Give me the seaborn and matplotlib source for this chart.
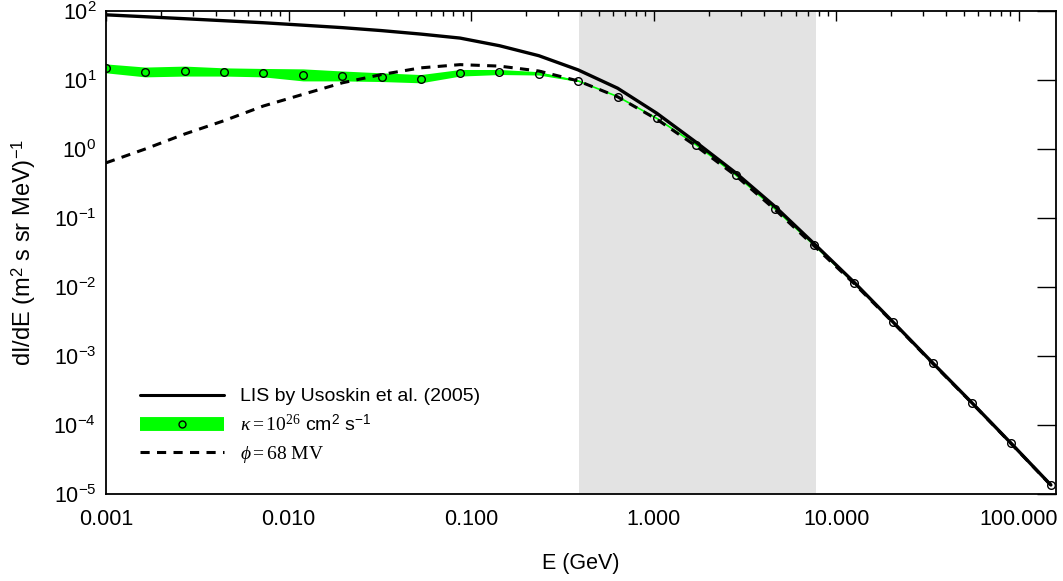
import numpy as np
import pandas as pd
import matplotlib
matplotlib.use("Agg")
import matplotlib.pyplot as plt
import seaborn as sns
from matplotlib.lines import Line2D
from matplotlib.ticker import FuncFormatter, LogLocator, NullLocator

# Kinetic energy grid (GeV)
energy_gev = [0.001, 0.00164, 0.0027, 0.00443, 0.00728, 0.012, 0.0197, 0.0323,
              0.053, 0.087, 0.143, 0.235, 0.386, 0.635, 1.04, 1.71, 2.82, 4.63,
              7.6, 12.5, 20.5, 33.7, 55.4, 91.0, 150.0]

# Local interstellar spectrum (Usoskin et al. 2005)
lis_flux = [88.0, 82.6, 77.3, 72.3, 67.6, 62.3, 57.4, 52.0, 46.3, 40.5, 31.4,
            22.5, 14.0, 7.6, 3.3, 1.25, 0.45, 0.146, 0.042, 0.0118, 3.1e-3,
            8.0e-4, 2.1e-4, 5.4e-5, 1.35e-5]

# Diffusion model, kappa = 1e26 cm^2/s
kappa_flux = [15.0, 13.2, 13.5, 13.2, 12.7, 12.0, 11.6, 11.1, 10.5, 12.7, 13.2,
              12.4, 9.7, 5.75, 2.78, 1.15, 0.42, 0.135, 0.040, 0.0115, 3.08e-3,
              7.9e-4, 2.1e-4, 5.4e-5, 1.35e-5]

# Spread of the diffusion model at low energies
band_energy = [0.001, 0.00164, 0.0027, 0.00443, 0.00728, 0.012, 0.0197, 0.0323,
               0.053, 0.087, 0.143, 0.235, 0.386]
band_upper = [17.1, 15.4, 15.9, 15.0, 14.7, 14.5, 13.5, 12.7, 12.0, 14.2, 14.2, 13.2, 9.9]
band_lower = [12.7, 11.1, 11.4, 11.4, 11.1, 9.7, 9.7, 9.5, 9.1, 11.4, 12.0, 11.8, 9.5]

# Force-field approximation, phi = 68 MV
phi_flux = [0.63, 1.0, 1.65, 2.57, 4.2, 6.2, 9.1, 12.0, 15.0, 16.7, 15.9, 13.5,
            9.7, 5.7, 2.7, 1.1, 0.41, 0.132, 0.039, 0.0113, 3.05e-3, 7.85e-4,
            2.08e-4, 5.35e-5, 1.34e-5]

# Energy window shaded in grey (GeV)
window = (0.39, 7.75)

sns.set_style("white")
plt.rcParams["font.family"] = ["Liberation Sans", "DejaVu Sans"]
plt.rcParams["mathtext.fontset"] = "custom"
plt.rcParams["mathtext.rm"] = "Liberation Serif"
plt.rcParams["mathtext.it"] = "Liberation Serif:italic"
plt.rcParams["mathtext.sf"] = "Liberation Sans"
for key in ("text.color", "axes.labelcolor", "xtick.color", "ytick.color",
            "axes.edgecolor"):
    plt.rcParams[key] = "black"

df = pd.DataFrame({"E": energy_gev, "lis": lis_flux, "kappa": kappa_flux, "phi": phi_flux})

fig = plt.figure(figsize=(10.63, 5.81), dpi=100)
ax = fig.add_axes([106 / 1063, 1 - 494 / 581, 950 / 1063, 483 / 581])
ax.set_xscale("log")
ax.set_yscale("log")

ax.axvspan(*window, color="#e3e3e3", lw=0, zorder=0)

GREEN = "#00ff00"
DASH = (0, (3, 2.4))
ax.fill_between(band_energy, band_lower, band_upper, color=GREEN, lw=0, zorder=1)
sns.lineplot(data=df, x="E", y="kappa", color=GREEN, lw=1.2, ax=ax, zorder=2)
sns.lineplot(data=df, x="E", y="phi", color="black", lw=2.2, ax=ax, zorder=3,
             dashes=False, linestyle=DASH)
sns.lineplot(data=df, x="E", y="lis", color="black", lw=2.4, ax=ax, zorder=4)
ax.plot(df["E"], df["kappa"], ls="none", marker="o", ms=5.5, mfc="none",
        mec="black", mew=1.0, zorder=5)

ax.set_xlim(0.001, 160)
ax.set_ylim(1e-5, 1e2)

ax.xaxis.set_major_locator(LogLocator(base=10, numticks=12))
ax.xaxis.set_minor_locator(LogLocator(base=10, subs=np.arange(2, 10), numticks=100))
ax.xaxis.set_major_formatter(FuncFormatter(lambda v, p: f"{v:.3f}"))
ax.yaxis.set_major_locator(LogLocator(base=10, numticks=20))
ax.yaxis.set_minor_locator(NullLocator())
ax.yaxis.set_major_formatter(
    FuncFormatter(lambda v, p: r"$\mathsf{10^{%d}}$" % round(np.log10(v))))

ax.tick_params(axis="both", which="both", direction="in", top=True, right=True,
               color="black", labelcolor="black")
ax.tick_params(axis="x", which="major", length=7.5, width=1.0, labelsize=15.5, pad=11)
ax.tick_params(axis="x", which="minor", length=3.6, width=1.0)
ax.tick_params(axis="y", which="major", length=14, width=1.0, labelsize=15.5, pad=7)
for s in ax.spines.values():
    s.set_color("black")
    s.set_linewidth(1.3)

ax.set_xlabel("E (GeV)", fontsize=15.5, labelpad=16, color="black")
ax.set_ylabel(r"dI/dE (m$^{\mathsf{2}}$ s sr MeV)$^{\mathsf{-1}}$", fontsize=17,
              labelpad=11, color="black")

handles = [
    Line2D([], [], color="black", lw=2.2),
    Line2D([], [], color=GREEN, lw=10, solid_capstyle="butt", marker="o", ms=5,
           mfc="none", mec="black", mew=1.0),
    Line2D([], [], color="black", lw=2.2, linestyle=DASH),
]
labels = [
    "LIS by Usoskin et al. (2005)",
    r"$\kappa = 10^{26}$ cm$^{\mathsf{2}}$ s$^{\mathsf{-1}}$",
    r"$\phi = 68\ \mathrm{MV}$",
]
leg = ax.legend(handles, labels, loc="lower left", bbox_to_anchor=(0.036, 0.06),
                frameon=False, fontsize=14, handlelength=4.3, handletextpad=0.85,
                borderpad=0, borderaxespad=0, labelspacing=0.45, numpoints=1)
for t in leg.get_texts():
    t.set_color("black")

fig.savefig("out.png", dpi=100)
